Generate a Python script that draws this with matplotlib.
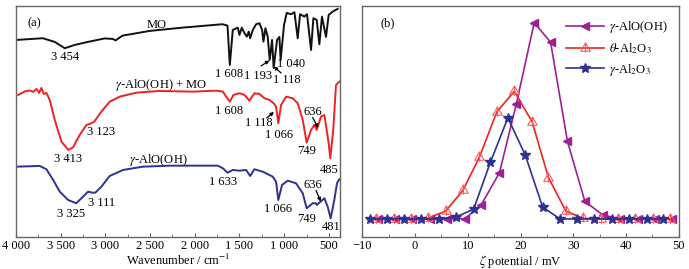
import matplotlib
matplotlib.use('Agg')
import matplotlib.pyplot as plt
from matplotlib.path import Path
from matplotlib.ticker import MultipleLocator, FuncFormatter

plt.rcParams['font.family'] = 'Liberation Serif'
plt.rcParams['mathtext.fontset'] = 'stix'
FontSize = 9

# ---------------- (a) FTIR spectra, y in arbitrary units ----------------
mo_wn = [3992, 3699, 3565, 3453, 3342, 3211, 3007, 2917, 2884, 2839, 2806, 2505, 2136, 1690, 1634,
         1608, 1575, 1519, 1500, 1474, 1444, 1418, 1396, 1381, 1351, 1314, 1277, 1247, 1232, 1210,
         1184, 1162, 1136, 1118, 1080, 1054, 1040, 1002, 972, 924, 886, 849, 823, 775, 745, 700,
         674, 637, 607, 578, 533, 503, 459, 403]
mo_y = [197, 198.7, 195, 188.7, 192, 194.7, 198.5, 198, 196.5, 199.5, 201.3, 206, 209.3, 212.7, 211.3,
        172, 207, 209.3, 202, 209.3, 203.7, 200.3, 205.3, 198.7, 207, 212.7, 213.7, 207, 195.3, 208.7,
        200, 177, 197, 169, 197, 200, 177, 212, 224, 222.7, 224.7, 198.7, 222.7, 220.3, 222.7, 187,
        218.7, 217, 192.7, 220.3, 200, 222, 225.3, 228]

mix_wn = [3974, 3900, 3844, 3807, 3769, 3740, 3714, 3688, 3658, 3621, 3565, 3490, 3413, 3360, 3286,
          3211, 3156, 3123, 3044, 2951, 2839, 2653, 2393, 2021, 1761, 1686, 1649, 1608, 1567, 1500,
          1444, 1389, 1333, 1277, 1221, 1165, 1118, 1091, 1066, 1035, 979, 905, 849, 793, 749, 700,
          663, 636, 589, 551, 503, 485, 452, 421, 384]
mix_y = [142, 145.5, 146.5, 145, 148, 144, 149, 143, 144, 137, 117, 95.3, 87, 89.7, 102,
         112, 113.7, 115.3, 125.3, 135.3, 140.3, 144.3, 146, 145.3, 146.3, 145.3, 140.3, 135.3, 142, 143.7,
         142, 136.3, 143.7, 143, 138.7, 137, 133.7, 130.3, 113.7, 132, 140.3, 138.7, 133.7, 117, 94.3, 107,
         112, 107, 120.3, 122, 93.7, 78.7, 107, 152, 155.3]

boe_wn = [3993, 3732, 3658, 3583, 3509, 3416, 3325, 3249, 3193, 3144, 3111, 3044, 2951, 2802, 2579,
          2281, 1984, 1742, 1686, 1633, 1575, 1500, 1426, 1381, 1333, 1240, 1128, 1091, 1066, 1024,
          961, 868, 793, 749, 682, 644, 636, 551, 514, 481, 440, 410, 384]
boe_y = [70.3, 71, 67.7, 57, 45.3, 37, 33.7, 40.3, 45.3, 44.3, 44.3, 50.3, 61, 67, 70.3,
         71.3, 71.3, 71.3, 68.7, 64.3, 67, 66.3, 67, 61, 67.7, 65.3, 60.3, 55.3, 37, 52,
         56.3, 53.7, 43.7, 28.7, 33.7, 33.7, 32, 38.7, 30.3, 18.7, 37, 53.7, 57.7]

# peak labels: (text, wavenumber, y)
mo_labels = [('MO', 2430, 212), ('3 454', 3453, 180), ('1 608', 1612, 163), ('1 193', 1296, 161),
             ('1 040', 923, 173), ('1 118', 975, 157)]
mix_labels = [(r'$\gamma$-AlO(OH) + MO', 2374, 152), ('3 413', 3416, 78), ('3 123', 3044, 105),
              ('1 608', 1612, 126), ('1 118', 1285, 114), ('1 066', 1054, 102), ('749', 745, 86),
              ('636', 682, 125), ('485', 500, 67)]
boe_labels = [(r'$\gamma$-AlO(OH)', 2411, 77), ('3 325', 3378, 23), ('3 111', 3044, 34),
              ('1 633', 1686, 55), ('1 066', 1073, 28), ('749', 745, 18), ('636', 682, 52), ('481', 477, 10)]
# arrows: (start wn, start y, end wn, end y)
arrows = [(1258, 171, 1165, 176.5), (1035, 164, 1118, 170.5), (1195, 119, 1115, 125),
          (682, 119.5, 620, 109), (644, 46.5, 592, 35.5)]

# ---------------- (b) zeta potential distributions ----------------
boe_zeta = [-7.1, -3.8, -0.5, 2.8, 6.1, 9.4, 12.5, 16.0, 19.2, 22.6, 25.7, 28.9, 32.2, 35.6,
            38.9, 42.2, 45.5, 48.8]
boe_int = [0, 0, 0, 0, 0, 0, 1.4, 4.7, 11.7, 20.0, 18.0, 7.9, 1.8, 0.4, 0, 0, 0, 0]
theta_zeta = [-7.4, -4.1, -0.8, 2.5, 5.8, 9.05, 12.2, 15.5, 18.8, 22.2, 25.3, 28.6, 31.9, 35.2,
              38.5, 41.8, 45.1, 48.4]
theta_int = [0, 0, 0, 0.1, 0.8, 2.9, 6.3, 10.9, 13.0, 9.9, 4.2, 0.8, 0.05, 0, 0, 0, 0, 0]
gam_zeta = [-8.6, -5.3, -2.1, 1.2, 4.5, 7.8, 11.1, 14.3, 17.6, 20.9, 24.2, 27.5, 30.7, 34.0,
            37.3, 40.6, 43.9, 47.1]
gam_int = [0, 0, 0, 0, 0, 0.2, 1.0, 5.8, 10.3, 6.5, 1.2, 0, 0, 0, 0, 0, 0, 0]

black = '#111111'
red = '#EE2222'
navy = '#2E3192'
purple = '#9E1F96'
spine_c = '#666666'

fig = plt.figure(figsize=(6.89, 2.69), dpi=100)
ax1 = fig.add_axes([0.023, 0.119, 0.470, 0.859])
ax2 = fig.add_axes([0.526, 0.119, 0.459, 0.859])

ax1.plot(mo_wn, mo_y, color=black, lw=1.4)
ax1.plot(mix_wn, mix_y, color=red, lw=1.4)
ax1.plot(boe_wn, boe_y, color=navy, lw=1.4)
for t, x, y in mo_labels + mix_labels + boe_labels:
    ax1.text(x, y, t, fontsize=FontSize, ha='center', va='center')
for x0, y0, x1, y1 in arrows:
    ax1.annotate('', xy=(x1, y1), xytext=(x0, y0),
                 arrowprops=dict(arrowstyle='-|>', color='black', lw=0.9, mutation_scale=5,
                                 shrinkA=0, shrinkB=0))
ax1.set_xlim(4000, 380)
ax1.set_ylim(0, 231)
ax1.set_yticks([])
ax1.xaxis.set_major_locator(MultipleLocator(500))
ax1.xaxis.set_minor_locator(MultipleLocator(250))
ax1.xaxis.set_major_formatter(FuncFormatter(lambda v, p: f'{int(v):,}'.replace(',', ' ')))
ax1.set_xlabel('Wavenumber / cm$^{-1}$', fontsize=FontSize, labelpad=1)
ax1.text(0.037, 0.925, '(a)', transform=ax1.transAxes, fontsize=FontSize, ha='left', va='center')

# triangle with a vertical stroke, like the reference's open markers
tri = Path([(0, 1), (-0.866, -0.5), (0.866, -0.5), (0, 1), (0, 1), (0, -0.75)],
           [Path.MOVETO, Path.LINETO, Path.LINETO, Path.CLOSEPOLY, Path.MOVETO, Path.LINETO])

ax2.plot(boe_zeta, boe_int, color=purple, lw=1.2, marker='<', ms=6, mfc=purple, mec=purple,
         label=r'$\gamma$-AlO(OH)', zorder=2)
ax2.plot(theta_zeta, theta_int, color=red, lw=1.2, marker=tri, ms=8, mfc='none', mec='#FF5A5A',
         mew=0.8, label=r'$\theta$-Al$_2$O$_3$', zorder=3)
ax2.plot(gam_zeta, gam_int, color=navy, lw=1.2, marker='*', ms=7, mfc=navy, mec=navy,
         label=r'$\gamma$-Al$_2$O$_3$', zorder=4)
ax2.set_xlim(-10, 50)
ax2.set_ylim(-1.84, 21.7)
ax2.set_yticks([])
ax2.xaxis.set_major_locator(MultipleLocator(10))
ax2.xaxis.set_minor_locator(MultipleLocator(5))
ax2.set_xlabel(r'$\zeta$ potential / mV', fontsize=FontSize, labelpad=1)
ax2.text(0.057, 0.925, '(b)', transform=ax2.transAxes, fontsize=FontSize, ha='left', va='center')
ax2.legend(fontsize=FontSize, frameon=False, loc='upper right', bbox_to_anchor=(1.0, 0.99),
           handlelength=3, handletextpad=0.4, labelspacing=0.45)

for ax in (ax1, ax2):
    for s in ax.spines.values():
        s.set_color(spine_c)
        s.set_linewidth(1.0)
    ax.tick_params(axis='x', which='both', direction='in', labelsize=FontSize, color=spine_c, pad=2)
    ax.tick_params(axis='x', which='major', length=3)
    ax.tick_params(axis='x', which='minor', length=2)

plt.savefig('out.png', dpi=100)
